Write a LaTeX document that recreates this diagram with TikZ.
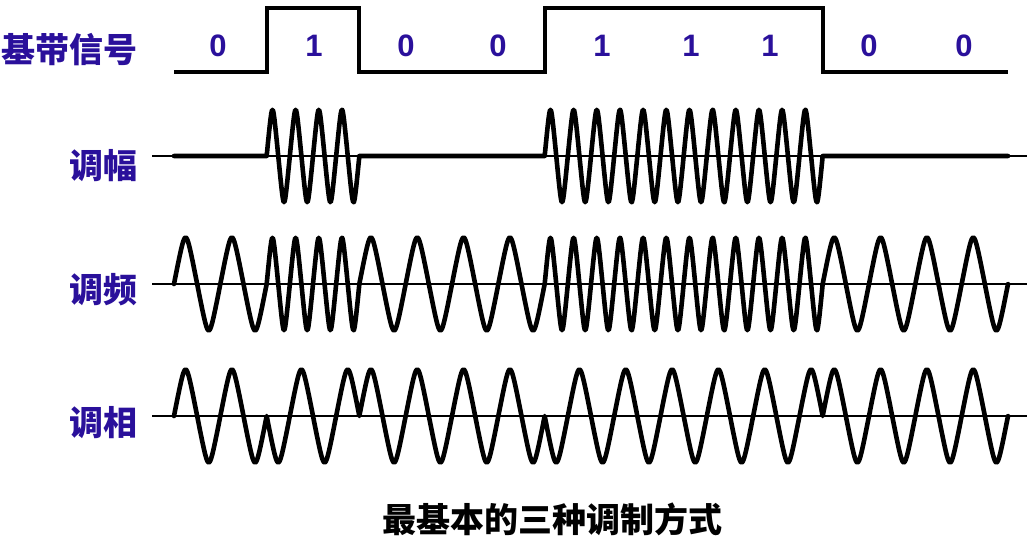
\documentclass[tikz,border=0pt]{standalone}
\usepackage{fontspec}
\setmainfont{Liberation Sans}
\newfontfamily\cjk{Noto Sans CJK SC}
\definecolor{sigblue}{RGB}{42,16,155}
\newcommand{\bitw}{92.667}
\tikzset{
  wave/.style={line width=4.6pt, line cap=round, line join=round},
  baseline/.style={line width=4pt},
  axisline/.style={line width=1.2pt},
  sidelabel/.style={anchor=east, inner sep=0pt, text=sigblue, font=\cjk\bfseries\fontsize{34}{40}\selectfont},
  bitlabel/.style={inner sep=0pt, text=sigblue, font=\bfseries\fontsize{31}{36}\selectfont},
  caption/.style={inner sep=0pt, font=\cjk\bfseries\fontsize{34}{40}\selectfont}
}
\newcommand{\modrow}[2]{ \draw[axisline] (152,#1) -- (1027,#1); \draw[wave] (174,#1) foreach \c/\s [count=\b from 0] in {#2} { -- plot[domain=0:1, samples=121] ({174+(\b+\x)*\bitw}, {#1-(\s)*46.5*asin(0.9*sin(360*\c*\x))/64.16}) };}

\begin{document}
\begin{tikzpicture}[x=1pt, y=-1pt]
  \useasboundingbox (0,0) rectangle (1032,546);
  \draw[baseline] (174,72) -- ({174+\bitw},72) -- ({174+\bitw},8) -- ({174+2*\bitw},8) -- ({174+2*\bitw},72)
    -- ({174+4*\bitw},72) -- ({174+4*\bitw},8) -- ({174+7*\bitw},8) -- ({174+7*\bitw},72) -- (1008,72);
  \foreach \px/\d [count=\i from 0] in {218/0,314/1,406/0,498/0,602/1,691/1,770/1,869/0,964/0}
    \node[bitlabel] (bit\i) at (\px,46) {\d};
  \modrow{156}{4/0,4/1,4/0,4/0,4/1,4/1,4/1,4/0,4/0}
  \modrow{284}{2/1,4/1,2/1,2/1,4/1,4/1,4/1,2/1,2/1}
  \modrow{416}{2/1,2/-1,2/1,2/1,2/-1,2/-1,2/-1,2/1,2/1}
  \node[sidelabel] (base) at (138,50) {基带信号};
  \node[sidelabel] (am) at (138,166) {调幅};
  \node[sidelabel] (fm) at (138,290) {调频};
  \node[sidelabel] (pm) at (138,423) {调相};
  \node[caption] (cap) at (552,519) {最基本的三种调制方式};
\end{tikzpicture}
\end{document}
